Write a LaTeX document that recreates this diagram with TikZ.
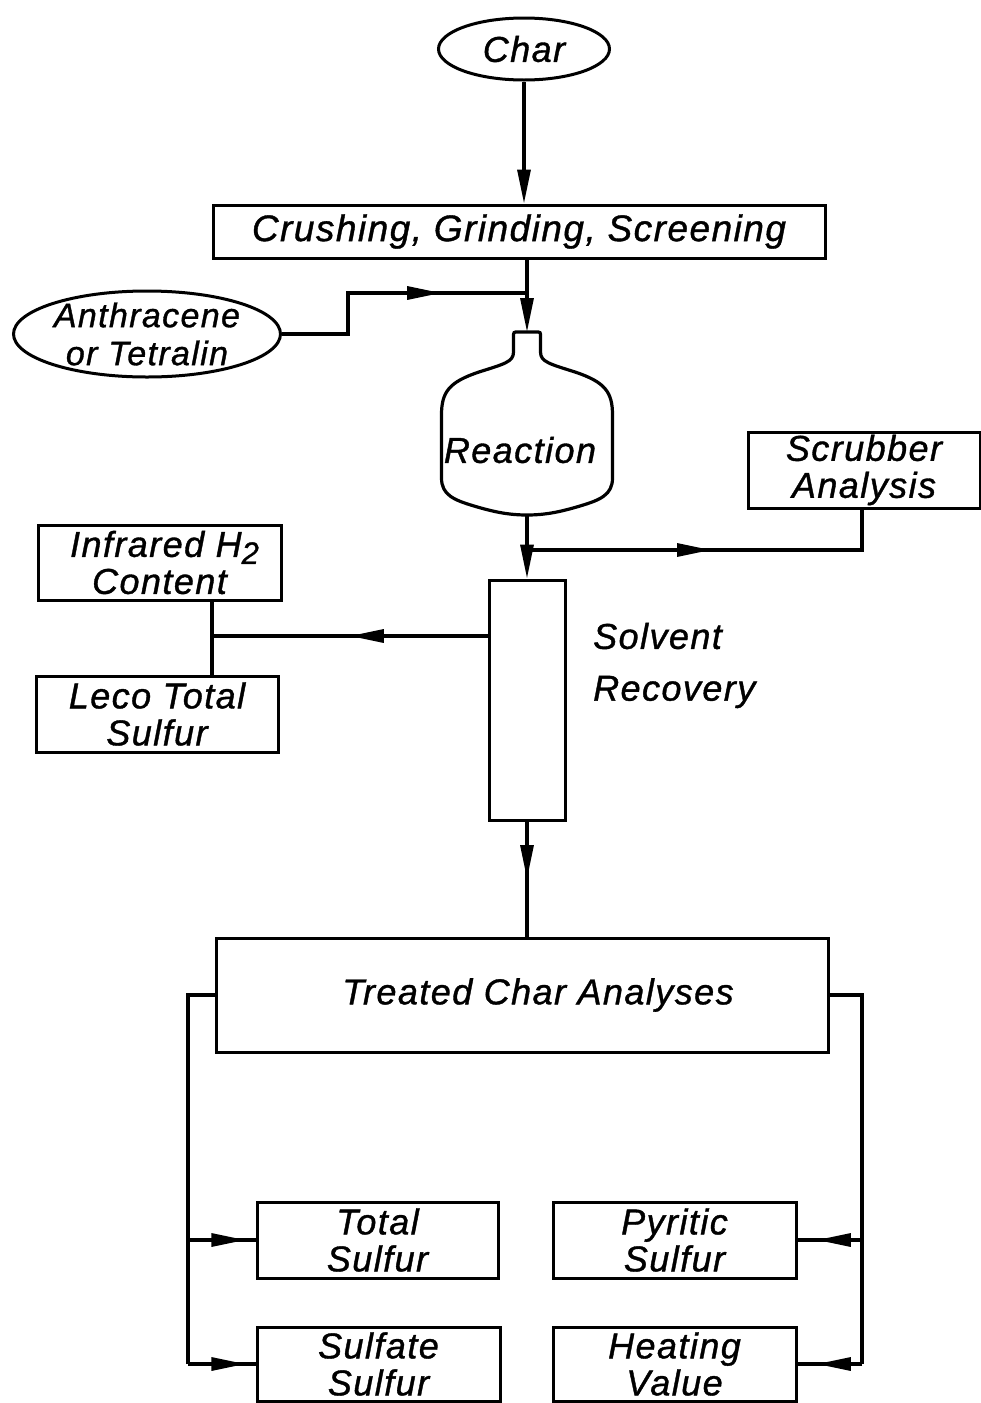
\documentclass[tikz,border=0pt]{standalone}
\usepackage{fontspec}
\setmainfont{Liberation Sans}[LetterSpace=4, FakeBold=1]
\usetikzlibrary{arrows.meta,decorations.markings,shapes.geometric}
\begin{document}
\begin{tikzpicture}[x=1pt,y=-1pt,
  every node/.style={font=\itshape\fontsize{36}{37}\selectfont, align=center, inner sep=0pt},
  ln/.style={line width=3.2pt},
  bx/.style={draw, line width=3pt, rectangle},
  ov/.style={draw, line width=3pt, ellipse, inner xsep=-30pt, inner ysep=-6pt},
  tip/.style={-{Triangle[length=34pt,width=13pt]}},
  marr/.style={postaction={decorate}, decoration={markings, mark=at position #1 with {\arrow{Triangle[length=34pt,width=13pt]}}}}
]
\useasboundingbox (0,0) rectangle (981,1403);

% nodes
\node[ov, minimum width=171pt, minimum height=62pt] (char) at (524,49) {Char};
\node[bx, minimum width=612pt, minimum height=53pt] (crush) at (519,231.5) {\fontsize{37}{39}\selectfont Crushing, Grinding, Screening};
\node[ov, minimum width=267pt, minimum height=86pt, font=\itshape\fontsize{34}{38}\selectfont] (anth) at (147,334) {Anthracene\\or Tetralin};

% reaction vessel
\draw[ln] (527,332) -- (536,332) .. controls (540.5,332) .. (540.5,337) -- (540.5,352)
  .. controls (540.5,362) and (550,364) .. (575,372)
  .. controls (605,382) and (612.5,392) .. (612.5,415) -- (612.5,478)
  .. controls (612.5,495) and (600,500) .. (580,506)
  .. controls (560,512) and (545,515) .. (527,515)
  .. controls (509,515) and (494,512) .. (474,506)
  .. controls (454,500) and (441.5,495) .. (441.5,478) -- (441.5,415)
  .. controls (441.5,392) and (449,382) .. (479,372)
  .. controls (504,364) and (513.5,362) .. (513.5,352) -- (513.5,337)
  .. controls (513.5,332) .. (518,332) -- cycle;
\node (react) at (520,450) {Reaction};
\coordinate (reacttop) at (527,332);
\coordinate (reactbot) at (527,515);

\node[bx, minimum width=232pt, minimum height=76pt] (scrub) at (864,470) {Scrubber\\Analysis};
\node[bx, minimum width=76pt, minimum height=240pt] (col) at (527,700) {};
\node[anchor=west] (solv) at (593,636) {Solvent};
\node[anchor=west] (recv) at (593,692) {Recovery};

\node[bx, minimum width=243pt, minimum height=75pt] (infra) at (159.5,562.5) {\hspace*{10pt}Infrared H\raisebox{-7pt}{\fontsize{31}{31}\selectfont 2}\\Content};
\node[bx, minimum width=242pt, minimum height=76pt] (leco) at (157,714) {Leco Total\\Sulfur};

\node[bx, minimum width=612pt, minimum height=114pt] (treat) at (522,995) {\hspace*{32pt}Treated Char Analyses};

\node[bx, minimum width=241pt, minimum height=76pt] (total) at (377.5,1240) {Total\\Sulfur};
\node[bx, minimum width=243pt, minimum height=74pt] (sulf) at (378.5,1364) {Sulfate\\Sulfur};
\node[bx, minimum width=243pt, minimum height=76pt] (pyr) at (674.5,1240) {Pyritic\\Sulfur};
\node[bx, minimum width=243pt, minimum height=74pt] (heat) at (674.5,1364) {Heating\\Value};

% connectors
\coordinate (j1) at (527,293);
\coordinate (j2) at (527,550);
\coordinate (j3) at (212,636);
\coordinate (lb) at (188,0);
\coordinate (rb) at (862,0);

\draw[ln, tip] (char.south) -- (char.south |- crush.north);
\draw[ln, tip] (crush.south -| reacttop) -- (reacttop);
\draw[ln, marr=0.7] (anth.east) -- ++(66,0) |- (j1);
\draw[ln, tip] (reactbot) -- (reactbot |- col.north);
\draw[ln, marr=0.49] (j2) -| (scrub.south -| rb);
\draw[ln] (infra.south -| j3) -- (leco.north -| j3);
\draw[ln, marr=0.5] (col.west |- j3) -- (j3);
\draw[ln, marr=0.5] (col.south) -- (col.south |- treat.north);

\draw[ln] (treat.west) -| (lb |- sulf.west);
\draw[ln, marr=0.85] (lb |- total.west) -- (total.west);
\draw[ln, marr=0.85] (lb |- sulf.west) -- (sulf.west);
\draw[ln] (treat.east) -| (rb |- heat.east);
\draw[ln, marr=0.7] (rb |- pyr.east) -- (pyr.east);
\draw[ln, marr=0.7] (rb |- heat.east) -- (heat.east);
\end{tikzpicture}
\end{document}
